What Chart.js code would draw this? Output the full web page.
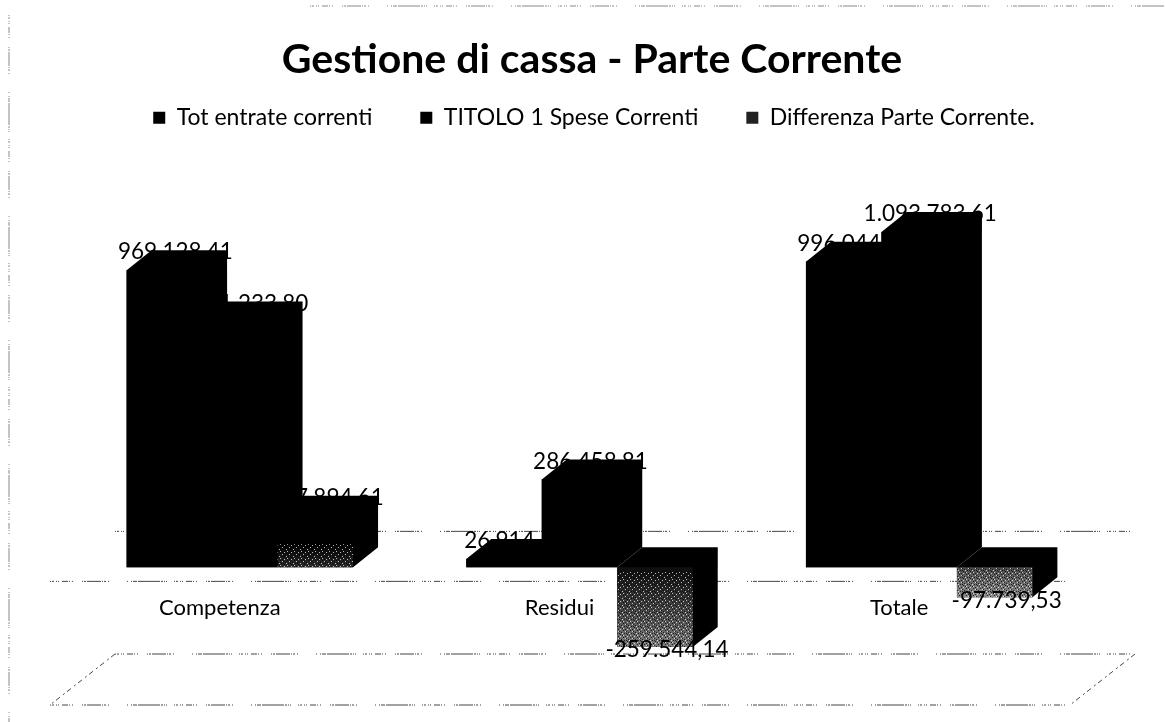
<!DOCTYPE html>
<html>
<head>
<meta charset="utf-8">
<title>Gestione di cassa - Parte Corrente</title>
<script src="https://cdn.jsdelivr.net/npm/chart.js@4"></script>
<style>
  html, body { margin: 0; padding: 0; background: #fff; }
  canvas { display: block; }
</style>
</head>
<body>
<canvas id="chart" width="1165" height="722"></canvas>
<script>
// values
const categories = ["Competenza", "Residui", "Totale"];
const totEntrate = [969128.41, 26914.67, 996044.08];
const titolo1 = [801233.80, 286458.81, 1093783.61];
const differenza = [167894.61, -259544.14, -97739.53];

const seriesNames = ["Tot entrate correnti", "TITOLO 1 Spese Correnti", "Differenza Parte Corrente."];
const titleText = "Gestione di cassa - Parte Corrente";

// 3d look of the old excel chart
const depthX = 25;
const depthY = 20;
const fontName = "Lato, 'Open Sans', sans-serif";

// gray of the last series, top and bottom of each bar (after the scan)
const diffTop = ["#000000", "#101010", "#4a4a4a"];
const diffBottom = ["#2e2e2e", "#7c7c7c", "#8c8c8c"];
const diffStop = [0.55, 0.05, 0];

// the irregular broken lines of the scan
const brokenDash = [1, 1, 2, 2, 1, 1, 1, 3, 6, 1, 1, 2, 1, 9, 1, 1, 2, 1, 14, 1, 1, 1, 2, 2, 1, 18, 1, 3, 1, 1, 4, 1, 22, 1, 2, 1, 1, 1, 1, 7];

function formatIt(v) {
    const sign = v < 0 ? "-" : "";
    const parts = Math.abs(v).toFixed(2).split(".");
    return sign + parts[0].replace(/\B(?=(\d{3})+$)/g, ".") + "," + parts[1];
}

function diffFill(context) {
    const chart = context.chart;
    const i = context.dataIndex;
    if (i === undefined || !chart.chartArea) return "#1a1a1a";
    const y = chart.scales.y;
    const a = y.getPixelForValue(Math.max(differenza[i], 0));
    const b = y.getPixelForValue(Math.min(differenza[i], 0));
    const g = chart.ctx.createLinearGradient(0, a, 0, b);
    g.addColorStop(0, diffTop[i]);
    g.addColorStop(diffStop[i], diffTop[i]);
    g.addColorStop(1, diffBottom[i]);
    return g;
}

// small fixed tile of dark and light dots, looks like the scanner dither
function ditherPattern(ctx) {
    const tile = document.createElement("canvas");
    tile.width = 7;
    tile.height = 7;
    const t = tile.getContext("2d");
    t.fillStyle = "#000";
    [[0, 0], [3, 1], [5, 2], [1, 3], [4, 4], [6, 5], [2, 6], [3, 3]].forEach(p => t.fillRect(p[0], p[1], 1, 1));
    t.fillStyle = "#fff";
    [[2, 1], [6, 3], [0, 5], [4, 6]].forEach(p => t.fillRect(p[0], p[1], 1, 1));
    return ctx.createPattern(tile, "repeat");
}

function brokenLine(ctx, x1, y1, x2, y2) {
    ctx.beginPath();
    ctx.moveTo(x1, y1);
    ctx.lineTo(x2, y2);
    ctx.stroke();
}

const box3d = {
    id: "box3d",
    afterLayout(chart) {
        // title and legend are centred a bit right of the plot in the reference
        chart.titleBlock.left += 12.5;
        chart.titleBlock.right += 12.5;
        chart.legend.left += 14.5;
        chart.legend.right += 14.5;
    },
    beforeDatasetsDraw(chart) {
        const ctx = chart.ctx;
        const area = chart.chartArea;
        const zero = chart.scales.y.getPixelForValue(0);

        // walls and floor
        ctx.save();
        ctx.strokeStyle = "#444";
        ctx.lineWidth = 1;
        ctx.setLineDash(brokenDash);
        brokenLine(ctx, area.left + 45, zero - 36, area.right + 46, zero - 36);
        brokenLine(ctx, area.left - 20, zero + 14, area.right - 19, zero + 14);
        brokenLine(ctx, area.left + 45, area.bottom - 52, area.right + 46, area.bottom - 52);
        brokenLine(ctx, area.left - 20, area.bottom - 1, area.right - 19, area.bottom - 1);
        ctx.setLineDash([5, 3, 2, 4]);
        brokenLine(ctx, area.left + 45, area.bottom - 52, area.left - 20, area.bottom - 1);
        brokenLine(ctx, area.right + 46, area.bottom - 52, area.right - 19, area.bottom - 1);
        ctx.strokeStyle = "#888";
        ctx.setLineDash(brokenDash);
        brokenLine(ctx, 9, 15, 9, chart.height);
        brokenLine(ctx, 310, 6, chart.width, 6);
        ctx.restore();

        // positive labels sit behind the boxes, as in the picture
        ctx.save();
        ctx.fillStyle = "#000";
        ctx.font = "22.5px " + fontName;
        ctx.textAlign = "center";
        ctx.textBaseline = "middle";
        chart.data.datasets.forEach((ds, d) => {
            chart.getDatasetMeta(d).data.forEach((bar, i) => {
                if (ds.data[i] >= 0) {
                    ctx.fillText(formatIt(ds.data[i]), bar.x + 11, bar.y - depthY + 2);
                }
            });
        });

        // sides and tops of the boxes
        chart.data.datasets.forEach((ds, d) => {
            chart.getDatasetMeta(d).data.forEach(bar => {
                const left = bar.x - bar.width / 2;
                const right = bar.x + bar.width / 2;
                const top = Math.min(bar.y, bar.base);
                const bottom = Math.max(bar.y, bar.base);
                ctx.beginPath();
                ctx.moveTo(left, top);
                ctx.lineTo(left + depthX, top - depthY);
                ctx.lineTo(right + depthX, top - depthY);
                ctx.lineTo(right + depthX, bottom - depthY);
                ctx.lineTo(right, bottom);
                ctx.lineTo(left, bottom);
                ctx.closePath();
                ctx.fill();
            });
        });
        ctx.restore();
    },
    afterDatasetsDraw(chart) {
        const ctx = chart.ctx;
        ctx.save();

        // dither on the last series only, below the part that stays black
        const pattern = ditherPattern(ctx);
        chart.getDatasetMeta(2).data.forEach((bar, i) => {
            const top = Math.min(bar.y, bar.base);
            const h = Math.abs(bar.y - bar.base);
            const skip = h * diffStop[i];
            ctx.globalAlpha = 0.7;
            ctx.fillStyle = pattern;
            ctx.fillRect(bar.x - bar.width / 2, top + skip, bar.width, h - skip);
        });
        ctx.globalAlpha = 1;

        // negative labels come out over the box
        ctx.fillStyle = "#000";
        ctx.font = "22.5px " + fontName;
        ctx.textAlign = "center";
        ctx.textBaseline = "middle";
        chart.getDatasetMeta(2).data.forEach((bar, i) => {
            if (differenza[i] < 0) {
                ctx.fillText(formatIt(differenza[i]), bar.x + 12, bar.y + 3);
            }
        });
        ctx.restore();
    }
};

new Chart(document.getElementById("chart"), {
    type: "bar",
    data: {
        labels: categories,
        datasets: [
            { label: seriesNames[0], data: totEntrate, backgroundColor: "#000" },
            { label: seriesNames[1], data: titolo1, backgroundColor: "#000" },
            { label: seriesNames[2], data: differenza, backgroundColor: diffFill }
        ]
    },
    options: {
        responsive: false,
        animation: false,
        events: [],
        layout: { padding: { left: 70, right: 76, top: 0, bottom: 16 } },
        datasets: { bar: { categoryPercentage: 2 / 3, barPercentage: 1 } },
        plugins: {
            tooltip: { enabled: false },
            title: {
                display: true,
                text: titleText,
                color: "#000",
                font: { family: fontName, size: 41, weight: "bold" },
                padding: { top: 35, bottom: -26 }
            },
            legend: {
                position: "top",
                labels: {
                    color: "#000",
                    font: { family: fontName, size: 23 },
                    boxWidth: 12,
                    boxHeight: 12,
                    padding: 48,
                    generateLabels(chart) {
                        return seriesNames.map((name, i) => ({
                            text: name,
                            fillStyle: i === 2 ? "#222" : "#000",
                            lineWidth: 0,
                            datasetIndex: i
                        }));
                    }
                }
            }
        },
        scales: {
            x: {
                position: { y: 0 },
                grid: { display: false },
                border: { display: false },
                ticks: {
                    color: "#000",
                    font: { family: fontName, size: 22 },
                    padding: 19,
                    labelOffset: -20,
                    maxRotation: 0
                }
            },
            y: {
                display: false,
                min: -452000,
                max: 1396000,
                grid: { display: false }
            }
        }
    },
    plugins: [box3d]
});
</script>
</body>
</html>
